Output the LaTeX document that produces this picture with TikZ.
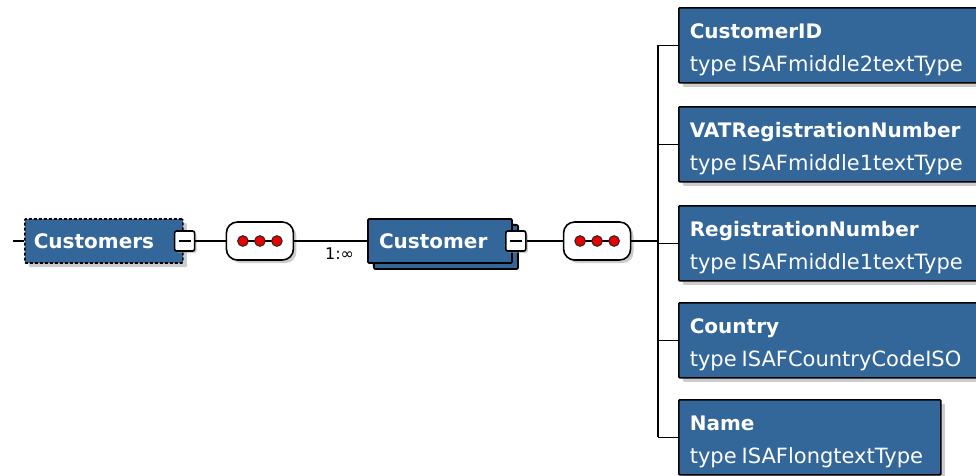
\documentclass[tikz,border=0pt]{standalone}
\usepackage{fontspec}
\setmainfont{DejaVu Sans}
\usetikzlibrary{positioning,shadows}
\definecolor{xsdblue}{RGB}{51,102,153}
\definecolor{dotred}{RGB}{235,0,0}
\newcommand{\eltitle}[1]{{\fontsize{20}{33}\selectfont\bfseries #1}}

\begin{document}
\begin{tikzpicture}[x=1pt, y=-1pt, line width=1.6pt,
  every node/.style={font=\fontsize{20}{24}\selectfont},
  elem/.style={draw, fill=xsdblue, text=white, font=\fontsize{20}{24}\selectfont\bfseries, align=left,
    minimum height=44pt, rounded corners=1pt,
    drop shadow={shadow xshift=4pt, shadow yshift=-4pt, fill=black!40, opacity=.5}},
  leaf/.style={elem, anchor=north west, text width=290pt, inner xsep=11pt, inner ysep=0pt,
    text height=31pt, text depth=44pt, font=\fontsize{21}{33}\selectfont},
  expand/.style={draw, fill=white, minimum width=20pt, minimum height=20pt, inner sep=0pt, rounded corners=2pt,
    drop shadow={shadow xshift=2pt, shadow yshift=-2pt, fill=black!40, opacity=.5},
    path picture={\draw ([xshift=-6pt]path picture bounding box.center) -- ([xshift=6pt]path picture bounding box.center);}},
  seq/.style={draw, fill=white, minimum width=67pt, minimum height=38pt, rounded corners=11pt,
    drop shadow={shadow xshift=3pt, shadow yshift=-3pt, fill=black!40, opacity=.5}},
  dot/.style={draw=black!85, fill=dotred, line width=1pt}]
  \useasboundingbox (0,0) rectangle (976,475);
  \clip (0,0) rectangle (976,475);

  % main chain
  \node[elem, anchor=west, text width=140pt, inner xsep=9pt, dash pattern={on 3pt off 2pt}] (cus) at (24,241) {Customers};
  \node[expand] (cusx) at ([xshift=1pt]cus.east) {};
  \node[seq, right=42pt of cus] (seq1) {};
  \node[elem, right=73pt of seq1, text width=122pt, inner xsep=11pt,
    copy shadow={shadow xshift=6pt, shadow yshift=-6pt}] (cust) {Customer};
  \node[expand] (custx) at ([xshift=3pt]cust.east) {};
  \node[seq, right=50pt of cust] (seq2) {};
  \foreach \s in {seq1,seq2} {
    \draw[line width=1.4pt] ([xshift=-17pt]\s.center) -- ([xshift=17pt]\s.center);
    \foreach \dx in {-17,0,17}
      \draw[dot] ([xshift=\dx pt]\s.center) circle (5.3pt);
  }

  % children
  \node[leaf] (cid) at (678,7) {\eltitle{CustomerID}\\type\hspace{5pt}ISAFmiddle2textType};
  \node[leaf] (vat) at (678,106) {\eltitle{VATRegistrationNumber}\\type\hspace{5pt}ISAFmiddle1textType};
  \node[leaf] (reg) at (678,205) {\eltitle{RegistrationNumber}\\type\hspace{5pt}ISAFmiddle1textType};
  \node[leaf] (ctry) at (678,302) {\eltitle{Country}\\type\hspace{5pt}ISAFCountryCodeISO};
  \node[leaf, text width=240pt] (name) at (678,399) {\eltitle{Name}\\type\hspace{5pt}ISAFlongtextType};

  % connectors
  \coordinate (in) at (13,241);
  \coordinate (bus) at (658,241);
  \draw (in) -- (cus.west);
  \draw (cusx) -- (seq1);
  \draw (seq1) -- (cust);
  \node[anchor=east, font=\fontsize{16}{18}\selectfont] (mult) at ([xshift=-9pt, yshift=-13pt]cust.west) {1:∞};
  \draw (custx) -- (seq2);
  \draw (seq2) -- (bus);
  \draw (bus |- cid.west) -- (bus |- name.west);
  \foreach \c in {cid,vat,reg,ctry,name}
    \draw (bus |- \c.west) -- (\c.west);
\end{tikzpicture}
\end{document}
